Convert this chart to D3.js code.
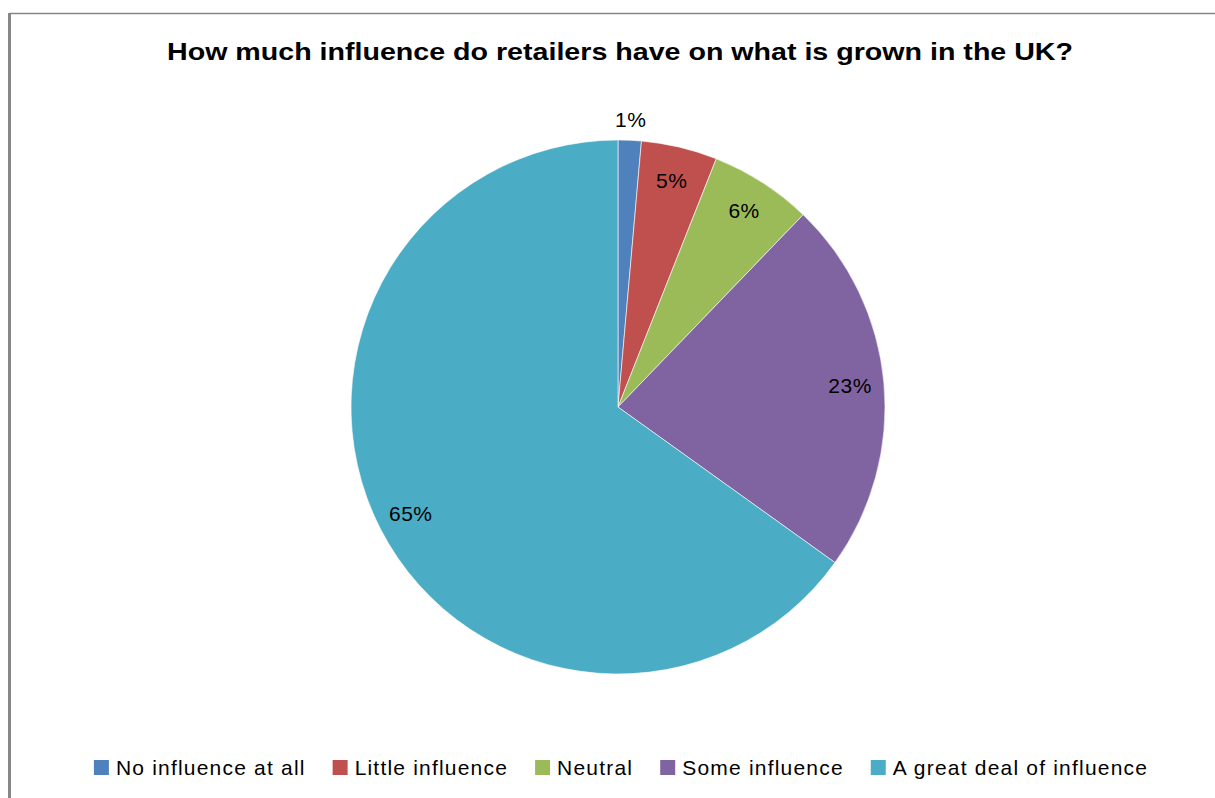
<!DOCTYPE html>
<html><head><meta charset="utf-8">
<script src="https://cdn.jsdelivr.net/npm/d3@7"></script>
<style>html,body{margin:0;padding:0;background:#fff;}svg{display:block;}</style>
</head><body>
<svg id="chart" width="1215" height="798"></svg>
<script>
const title = "How much influence do retailers have on what is grown in the UK?";
const categories = ["No influence at all", "Little influence", "Neutral", "Some influence", "A great deal of influence"];
const values = [1.4, 4.6, 6.2, 22.7, 65.1];
const labels = ["1%", "5%", "6%", "23%", "65%"];
const colors = ["#4F81BD", "#C0504D", "#9BBB59", "#8064A2", "#4BACC6"];

const svg = d3.select("#chart");
const W = 1215, H = 798;
svg.append("rect").attr("width", W).attr("height", H).attr("fill", "#fff");
// chart frame (partially visible)
svg.append("line").attr("x1", 9.5).attr("x2", W).attr("y1", 13.5).attr("y2", 13.5)
  .attr("stroke", "#878787").attr("stroke-width", 1.5);
svg.append("line").attr("x1", 9.5).attr("x2", 9.5).attr("y1", 13).attr("y2", H)
  .attr("stroke", "#878787").attr("stroke-width", 3);

svg.append("text").attr("x", 620).attr("y", 60).attr("text-anchor", "middle")
  .attr("font-family", "Liberation Sans, Arial, sans-serif").attr("font-weight", "bold")
  .attr("font-size", 24.5).attr("textLength", 906).attr("lengthAdjust", "spacingAndGlyphs")
  .attr("fill", "#000").text(title);

const cx = 618, cy = 407, R = 267;
const data = categories.map((c, i) => ({cat: c, value: values[i], label: labels[i], color: colors[i]}));
const pie = d3.pie().sort(null).value(d => d.value);
const arcs = pie(data);
const arc = d3.arc().innerRadius(0).outerRadius(R);
const g = svg.append("g").attr("transform", `translate(${cx},${cy})`);
g.selectAll("path").data(arcs).join("path")
  .attr("d", arc).attr("fill", d => d.data.color)
  .attr("stroke", "#fff").attr("stroke-width", 0.6);

const inArc = d3.arc().innerRadius(233).outerRadius(233);
const outArc = d3.arc().innerRadius(288).outerRadius(288);
g.selectAll("text.lbl").data(arcs).join("text").attr("class", "lbl")
  .attr("transform", (d, i) => `translate(${(i === 0 ? outArc : inArc).centroid(d)})`)
  .attr("text-anchor", "middle").attr("dy", "0.35em")
  .attr("font-family", "Liberation Sans, Arial, sans-serif").attr("font-size", 21)
  .attr("letter-spacing", 0.5)
  .attr("fill", "#000").text(d => d.data.label);

// legend
const lg = svg.append("g");
const sq = 15, gapText = 7, gapItem = 27;
let x = 0;
categories.forEach((c, i) => {
  const it = lg.append("g").attr("transform", `translate(${x},0)`);
  it.append("rect").attr("x", 0).attr("y", -sq).attr("width", sq).attr("height", sq).attr("fill", colors[i]);
  const t = it.append("text").attr("x", sq + gapText).attr("y", 0)
    .attr("font-family", "Liberation Sans, Arial, sans-serif").attr("font-size", 21)
    .attr("letter-spacing", 1.2).attr("fill", "#000").text(c);
  const w = t.node().getComputedTextLength();
  x += sq + gapText + w + gapItem;
});
const total = x - gapItem;
lg.attr("transform", `translate(${621 - total / 2},775)`);
</script>
</body></html>
